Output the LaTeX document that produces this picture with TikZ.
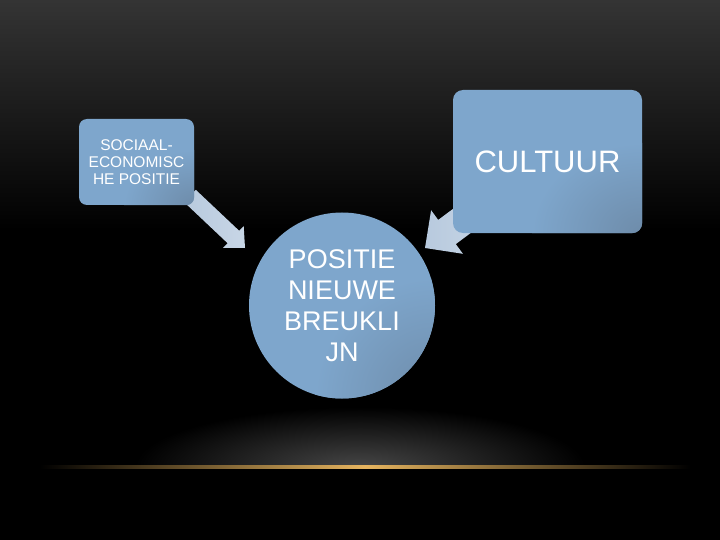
\documentclass[tikz,border=0pt]{standalone}
\usepackage{fontspec}
\setmainfont{Liberation Sans}
\usetikzlibrary{calc}
\definecolor{boxblue}{RGB}{126,166,204}
\definecolor{boxdark}{RGB}{110,140,170}
\definecolor{arrlight}{RGB}{200,214,230}
\definecolor{arrmid}{RGB}{184,202,222}
\definecolor{glowor}{RGB}{230,180,95}
\tikzset{
  arrowshape/.style={draw=none, left color=arrmid, right color=arrlight},
  lbl/.style={text=white, align=center, inner sep=0pt},
}
\begin{document}
\begin{tikzpicture}[x=1pt,y=-1pt]
% background
\fill[black] (0,0) rectangle (720,540);
\useasboundingbox (0,0) rectangle (720,540);
\shade[top color={rgb,255:red,52;green,52;blue,52}, bottom color=black] (0,0) rectangle (720,230);
% bottom glow
\begin{scope}
\clip (0,300) rectangle (720,467);
\shade[inner color={rgb,255:red,70;green,70;blue,70}, outer color=black] (360,467) ellipse [x radius=225, y radius=60];
\end{scope}
\shade[left color=black, right color=black, middle color=glowor] (40,465.5) rectangle (690,468.5);

% arrows (behind boxes)
\fill[arrowshape] (184.2,202.2) -- (227.6,243.2) -- (223.1,247.9) -- (245,248) -- (243.7,226.1) -- (239.2,230.8) -- (195.8,189.8) -- cycle;
\fill[arrowshape] (481.2,187.9) -- (438.2,219.9) -- (431.1,210.2) -- (425,248) -- (462.9,253.8) -- (455.8,244.1) -- (498.8,212.1) -- cycle;

% small box
\node[fill=boxblue, rounded corners=8pt, minimum width=115pt, minimum height=86pt, inner sep=0pt] (se) at (136.5,162) {};
\begin{scope}
\clip[rounded corners=8pt] (se.north west) rectangle (se.south east);
\shade[inner color=boxdark, outer color=boxblue] (194,205) ellipse [x radius=70, y radius=55];
\end{scope}
\node[lbl, font=\fontsize{15.5}{17.3}\selectfont] (setext) at (136.5,162) {SOCIAAL-\\ECONOMISC\\HE POSITIE};

% culture box
\node[fill=boxblue, rounded corners=10pt, minimum width=189pt, minimum height=143pt, inner sep=0pt] (cu) at (547.5,161.5) {};
\begin{scope}
\clip[rounded corners=10pt] (cu.north west) rectangle (cu.south east);
\shade[inner color=boxdark, outer color=boxblue] (642,233) ellipse [x radius=110, y radius=90];
\end{scope}
\node[lbl, font=\fontsize{31}{31}\selectfont] (cutext) at (547.5,161.5) {CULTUUR};

% circle
\node[circle, fill=boxblue, minimum size=186pt, inner sep=0pt] (po) at (342,305.5) {};
\begin{scope}
\clip (po) circle (93);
\shade[inner color=boxdark, outer color=boxblue] (435,398) ellipse [x radius=120, y radius=120];
\end{scope}
\node[lbl, font=\fontsize{27}{31}\selectfont] (potext) at (342,306) {POSITIE\\NIEUWE\\BREUKLI\\JN};
\end{tikzpicture}
\end{document}
